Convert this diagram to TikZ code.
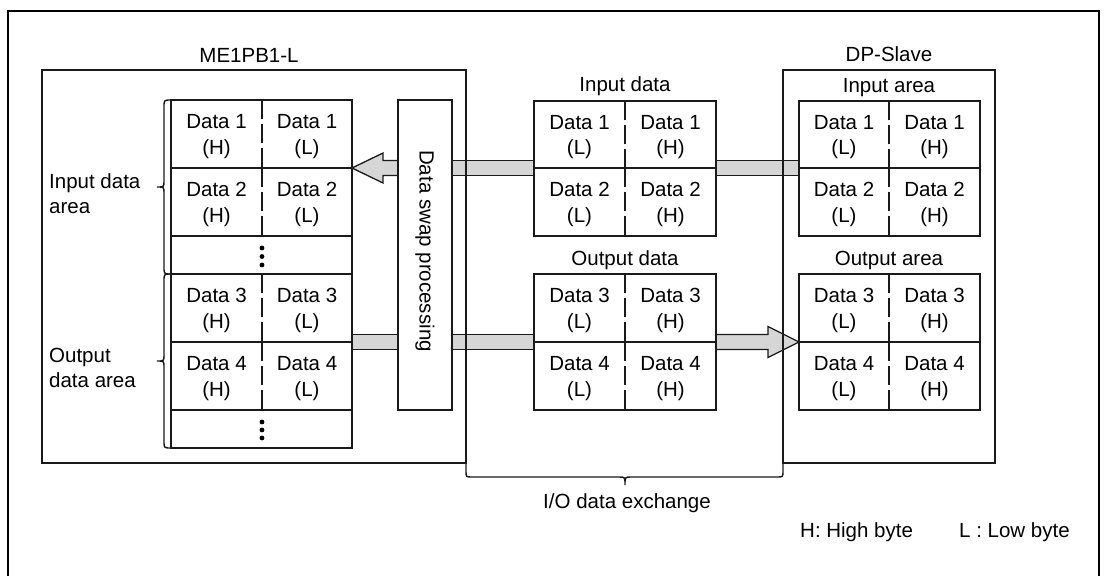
\documentclass[tikz,border=0pt]{standalone}
\usepackage{fontspec}
\setmainfont{Liberation Sans}
\definecolor{bandgray}{HTML}{D6D6D6}
\definecolor{linegray}{HTML}{1A1A1A}
\tikzset{
  boxline/.style={draw=linegray, line width=1.4pt},
  bandshape/.style={fill=bandgray, draw=linegray, line width=1.3pt, line join=miter},
  txt/.style={font=\fontsize{20.5}{25.5}\selectfont, inner sep=0pt, text=black},
  celltxt/.style={txt, align=center},
  divline/.style={draw=linegray, line width=1.3pt, dash pattern=on 19pt off 5pt},
  braceline/.style={draw=linegray, line width=1.4pt},
  dotmark/.style={fill=black},
}
\begin{document}
\begin{tikzpicture}[x=1pt,y=-1pt]
\useasboundingbox (0,0) rectangle (1105,576);
% outer frame (open at bottom)
\draw[line width=2.2pt] (8,576) -- (8,11) -- (1099,11) -- (1099,576);

% ---- gray bands and arrows ----
\draw[bandshape] (352,168) -- (383,153) -- (383,160.5) -- (398,160.5) -- (398,175.5) -- (383,175.5) -- (383,183) -- cycle;
\draw[bandshape] (452,160.5) rectangle (534,175.5);
\draw[bandshape] (716,160.5) rectangle (799,175.5);
\draw[bandshape] (352,334.5) rectangle (398,349.5);
\draw[bandshape] (452,334.5) rectangle (534,349.5);
\draw[bandshape] (716,334.5) -- (768,334.5) -- (768,326.5) -- (799,342) -- (768,357.5) -- (768,349.5) -- (716,349.5) -- cycle;

% ---- ME1PB1-L ----
\node[txt, anchor=base] (melabel) at (249,62) {ME1PB1-L};
\draw[boxline] (42,70) rectangle (466,463);
% left table
\draw[boxline] (171,100) rectangle (352,448);
\foreach \yy in {168,236,274,342,410} \draw[boxline] (171,\yy) -- (352,\yy);
\foreach \ya/\yb in {100/168,168/236,274/342,342/410} \draw[divline] (262,\ya) -- (262,\yb);
\foreach \yy in {248,256.5,265,422,430,438} \fill[dotmark] (262,\yy) circle (2.4);
\node[celltxt] (l1h) at (216.5,136.5) {Data 1\\(H)};
\node[celltxt] (l1l) at (307,136.5) {Data 1\\(L)};
\node[celltxt] (l2h) at (216.5,204.5) {Data 2\\(H)};
\node[celltxt] (l2l) at (307,204.5) {Data 2\\(L)};
\node[celltxt] (l3h) at (216.5,310.5) {Data 3\\(H)};
\node[celltxt] (l3l) at (307,310.5) {Data 3\\(L)};
\node[celltxt] (l4h) at (216.5,378.5) {Data 4\\(H)};
\node[celltxt] (l4l) at (307,378.5) {Data 4\\(L)};
% braces
\draw[braceline] (171,100) .. controls (164,100) .. (164,107) -- (164,181) .. controls (164,187) .. (157,187) .. controls (164,187) .. (164,193) -- (164,267) .. controls (164,274) .. (171,274);
\draw[braceline] (171,274) .. controls (164,274) .. (164,281) -- (164,355) .. controls (164,361) .. (157,361) .. controls (164,361) .. (164,367) -- (164,441) .. controls (164,448) .. (171,448);
\node[txt, align=left, anchor=west] (inarea) at (49,193.5) {Input data\\area};
\node[txt, align=left, anchor=west] (outarea) at (49,368) {Output\\data area};
% swap box
\draw[boxline] (398,100) rectangle (452,410);
\node[txt, rotate=-90] (swap) at (425,251) {Data swap processing};

% ---- I/O data in the middle ----
\node[txt, anchor=base] (indlabel) at (625,91) {Input data};
\draw[boxline] (534,101) rectangle (716,236);
\draw[boxline] (534,168) -- (716,168);
\foreach \ya/\yb in {101/168,168/236} \draw[divline] (625,\ya) -- (625,\yb);
\node[celltxt] (m1l) at (579.5,137) {Data 1\\(L)};
\node[celltxt] (m1h) at (670.5,137) {Data 1\\(H)};
\node[celltxt] (m2l) at (579.5,204.5) {Data 2\\(L)};
\node[celltxt] (m2h) at (670.5,204.5) {Data 2\\(H)};
\node[txt, anchor=base] (outdlabel) at (625,265) {Output data};
\draw[boxline] (534,274) rectangle (716,410);
\draw[boxline] (534,342) -- (716,342);
\foreach \ya/\yb in {274/342,342/410} \draw[divline] (625,\ya) -- (625,\yb);
\node[celltxt] (m3l) at (579.5,310.5) {Data 3\\(L)};
\node[celltxt] (m3h) at (670.5,310.5) {Data 3\\(H)};
\node[celltxt] (m4l) at (579.5,378.5) {Data 4\\(L)};
\node[celltxt] (m4h) at (670.5,378.5) {Data 4\\(H)};

% ---- DP-Slave ----
\node[txt, anchor=base] (dplabel) at (889,61) {DP-Slave};
\draw[boxline] (783,70) rectangle (995,463);
\node[txt, anchor=base] (inalabel) at (889,92) {Input area};
\draw[boxline] (799,101) rectangle (980,236);
\draw[boxline] (799,168) -- (980,168);
\foreach \ya/\yb in {101/168,168/236} \draw[divline] (889,\ya) -- (889,\yb);
\node[celltxt] (d1l) at (844,137) {Data 1\\(L)};
\node[celltxt] (d1h) at (934.5,137) {Data 1\\(H)};
\node[celltxt] (d2l) at (844,204.5) {Data 2\\(L)};
\node[celltxt] (d2h) at (934.5,204.5) {Data 2\\(H)};
\node[txt, anchor=base] (outalabel) at (889,265) {Output area};
\draw[boxline] (799,274) rectangle (980,410);
\draw[boxline] (799,342) -- (980,342);
\foreach \ya/\yb in {274/342,342/410} \draw[divline] (889,\ya) -- (889,\yb);
\node[celltxt] (d3l) at (844,310.5) {Data 3\\(L)};
\node[celltxt] (d3h) at (934.5,310.5) {Data 3\\(H)};
\node[celltxt] (d4l) at (844,378.5) {Data 4\\(L)};
\node[celltxt] (d4h) at (934.5,378.5) {Data 4\\(H)};

% ---- I/O data exchange brace ----
\draw[braceline] (466,463) -- (466,471) .. controls (466,477) .. (472,477) -- (619,477) .. controls (625,477) .. (625,485) .. controls (625,477) .. (631,477) -- (777,477) .. controls (783,477) .. (783,471) -- (783,463);
\node[txt, anchor=base] (iolabel) at (627,508) {I/O data exchange};

% ---- legend ----
\node[txt, anchor=base west] (legh) at (800,537) {H: High byte};
\node[txt, anchor=base west] (legl) at (959,537) {L : Low byte};
\end{tikzpicture}
\end{document}
